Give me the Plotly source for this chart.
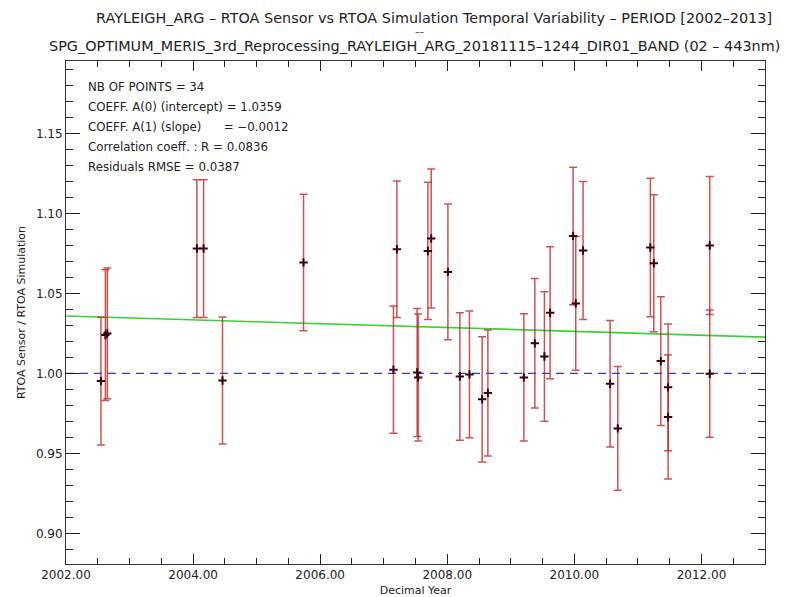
import plotly.graph_objects as go

# ---- data ----
decimal_year = [2002.55, 2002.62, 2002.65, 2004.06, 2004.165, 2004.463, 2005.738,
                2007.153, 2007.207, 2007.526, 2007.542, 2007.695, 2007.747, 2008.01,
                2008.198, 2008.349, 2008.549, 2008.639, 2009.205, 2009.378, 2009.529,
                2009.618, 2009.98, 2010.022, 2010.137, 2010.562, 2010.683, 2011.196,
                2011.25, 2011.36, 2011.475, 2011.475, 2012.13, 2012.13]
ratio = [0.9952, 1.0240, 1.0250, 1.0781, 1.0781, 0.9956, 1.0694,
         1.0023, 1.0777, 1.0006, 0.9975, 1.0766, 1.0844, 1.0635,
         0.9981, 0.9994, 0.9838, 0.9877, 0.9975, 1.0188, 1.0106,
         1.0379, 1.0860, 1.0438, 1.0769, 0.9935, 0.9656, 1.0788,
         1.0689, 1.0077, 0.9913, 0.9727, 1.0800, 0.9998]
ratio_err = [0.0399, 0.0409, 0.0409, 0.0431, 0.0431, 0.0397, 0.0427,
             0.0398, 0.0427, 0.0400, 0.0397, 0.0429, 0.0435, 0.0424,
             0.0399, 0.0396, 0.0392, 0.0394, 0.0398, 0.0405, 0.0405,
             0.0413, 0.0430, 0.0418, 0.0432, 0.0396, 0.0387, 0.0433,
             0.0428, 0.0402, 0.0396, 0.0388, 0.0431, 0.0398]

fit_x = [2002.0, 2013.0]
fit_y = [1.0359, 1.0227]
ref_x = [2002.0, 2013.0]
ref_y = [1.0, 1.0]

x_range = [2002.0, 2013.0]
y_range = [0.8808, 1.1954]

title_line1 = "RAYLEIGH_ARG \u2013 RTOA Sensor vs RTOA Simulation Temporal Variability \u2013 PERIOD [2002\u20132013]"
title_sep = "\u2013\u2013"
title_line2 = "SPG_OPTIMUM_MERIS_3rd_Reprocessing_RAYLEIGH_ARG_20181115\u20131244_DIR01_BAND (02 \u2013 443nm)"
stats_lines = [
    "NB OF POINTS = 34",
    "COEFF. A(0) (intercept) = 1.0359",
    "COEFF. A(1) (slope)      = \u22120.0012",
    "Correlation coeff. : R = 0.0836",
    "Residuals RMSE = 0.0387",
]

FONT = "DejaVu Sans"
TXT = "#222222"

W, H = 785, 597
L, R, T, B = 66, 20, 61, 33
pw, ph = W - L - R, H - T - B

fig = go.Figure()

fig.add_trace(go.Scatter(
    x=ref_x, y=ref_y, mode="lines",
    line=dict(color="#3a3ab8", width=1.2, dash="8px,6px"),
    hoverinfo="skip", showlegend=False))

fig.add_trace(go.Scatter(
    x=fit_x, y=fit_y, mode="lines",
    line=dict(color="#3ccf3c", width=1.6),
    hoverinfo="skip", showlegend=False))

fig.add_trace(go.Scatter(
    x=decimal_year, y=ratio, mode="markers",
    marker=dict(symbol="cross-thin", size=6,
                line=dict(color="#3a0010", width=2)),
    error_y=dict(type="data", array=ratio_err, visible=True,
                 color="rgba(190,40,40,0.8)", thickness=1.5, width=4),
    showlegend=False))

axis_common = dict(
    showgrid=False, zeroline=False, showline=True, linecolor="#333333",
    linewidth=1, mirror="allticks", ticks="inside", tickcolor="#222222",
    automargin=False,
    tickfont=dict(family=FONT, size=12, color=TXT))

fig.update_xaxes(
    range=x_range, tick0=2002, dtick=2, tickformat=".2f", ticklen=10,
    minor=dict(dtick=0.5, ticklen=6, ticks="inside", tickcolor="#222222"),
    title=dict(text="Decimal Year", font=dict(family=FONT, size=11, color=TXT),
               standoff=4),
    **axis_common)
fig.update_yaxes(
    range=y_range, tick0=0.9, dtick=0.05, tickformat=".2f", ticklen=14,
    minor=dict(dtick=0.01, ticklen=7, ticks="inside", tickcolor="#222222"),
    title=dict(text="RTOA Sensor / RTOA Simulation",
               font=dict(family=FONT, size=11, color=TXT), standoff=8),
    **axis_common)

fig.update_layout(
    width=W, height=H,
    margin=dict(l=L, r=R, t=T, b=B, autoexpand=False),
    paper_bgcolor="white", plot_bgcolor="white",
    font=dict(family=FONT, color=TXT),
)


def px_to_paper(px, py):
    return (px - L) / pw, (H - B - py) / ph


for txt, cx, cy, size in [(title_line1, 434, 18, 14.4), (title_sep, 420, 32, 9),
                          (title_line2, 414, 46, 14.4)]:
    xp, yp = px_to_paper(cx, cy)
    fig.add_annotation(text=txt, x=xp, y=yp, xref="paper", yref="paper",
                       showarrow=False, xanchor="center", yanchor="middle",
                       font=dict(family=FONT, size=size, color=TXT))

for i, line in enumerate(stats_lines):
    xp, yp = px_to_paper(86, 87 + i * 20)
    fig.add_annotation(text=line.replace("  ", "&nbsp;&nbsp;"), x=xp, y=yp,
                       xref="paper", yref="paper", showarrow=False,
                       xanchor="left", yanchor="middle",
                       font=dict(family=FONT, size=11.8, color=TXT))

fig.write_html("out.html", config={"displayModeBar": False},
               post_script="document.body.style.margin='0px';document.body.style.overflow='hidden';")
